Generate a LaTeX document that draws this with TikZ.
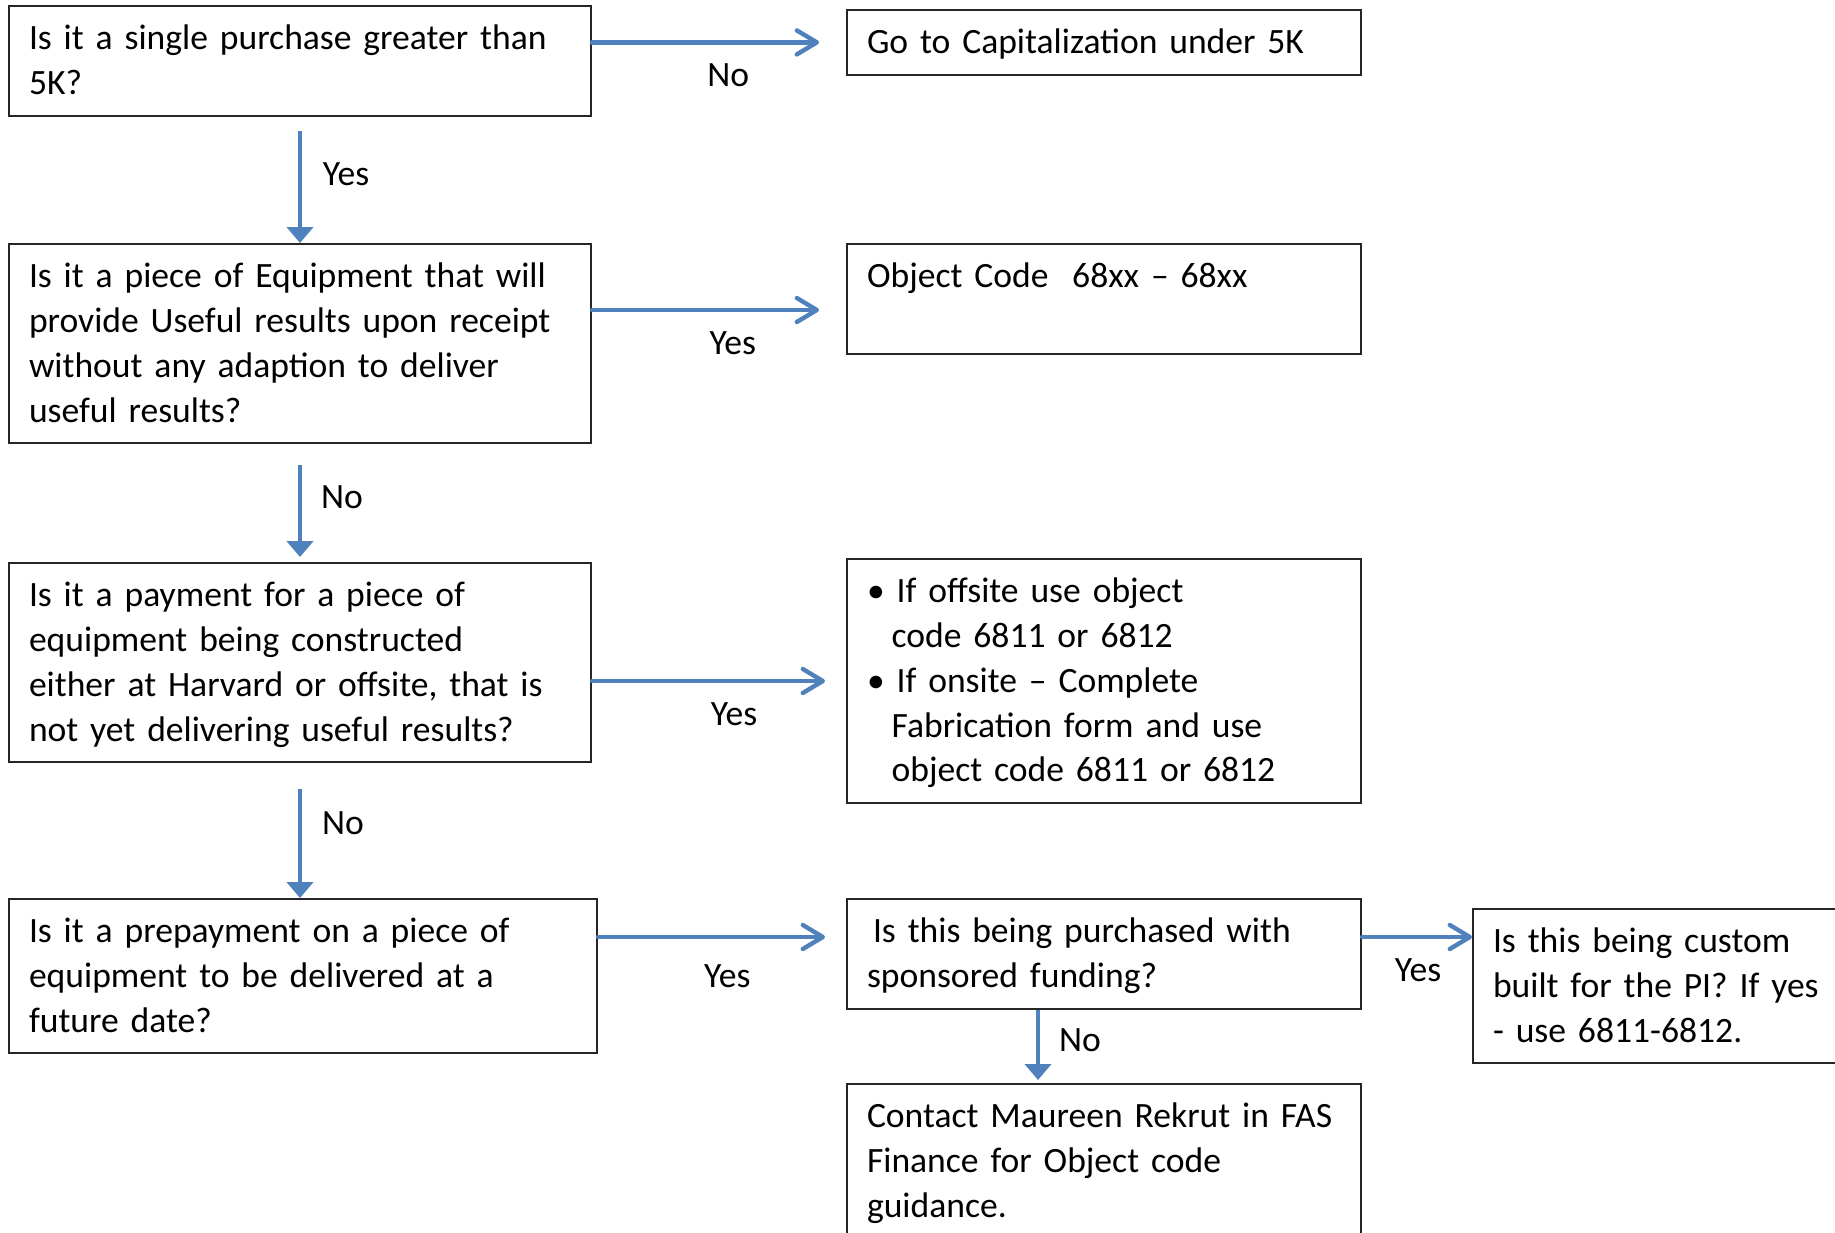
\documentclass[tikz,border=0pt]{standalone}
\usepackage{fontspec}
\setmainfont{Carlito}
\usetikzlibrary{arrows.meta}
\definecolor{flowblue}{HTML}{4F81BD}
\newcommand\bstrut{\rule[-5.6pt]{0pt}{22.4pt}}

\begin{document}
\begin{tikzpicture}[x=1pt,y=-1pt,
  font=\fontsize{17.8}{22.4}\selectfont,
  box/.style={draw=black!85, line width=1pt, anchor=north west, align=left,
    inner xsep=10pt, inner ysep=5pt,
    execute at begin node=\bstrut, execute at end node=\bstrut},
  harrow/.style={draw=flowblue, line width=2.2pt, line cap=round,
    -{Straight Barb[length=10pt,width=12pt,round]}},
  varrow/.style={draw=flowblue, line width=2.4pt, -{Triangle[length=8pt,width=13pt]}}]
\useasboundingbox (0,0) rectangle (917.5,616);

% questions on the left
\node[box, text width=271pt] (q1) at (4,2.5) {Is it a single purchase greater than\\5K?};
\node[box, text width=271pt] (q2) at (4,121.5) {Is it a piece of Equipment that will\\provide Useful results upon receipt\\without any adaption to deliver\\useful results?};
\node[box, text width=271pt] (q3) at (4,281) {Is it a payment for a piece of\\equipment being constructed\\either at Harvard or offsite, that is\\not yet delivering useful results?};
\node[box, text width=274pt] (q4) at (4,449) {Is it a prepayment on a piece of\\equipment to be delivered at a\\future date?};

% answers on the right
\node[box, text width=237pt] (cap) at (423,4.5) {Go to Capitalization under 5K};
\node[box, text width=237pt, text depth=28.2pt] (obj) at (423,121.5) {Object Code\ \ 68xx -- 68xx};
\node[box, text width=237pt] (bul) at (423,279) {\textbullet\ If offsite use object\\\hspace*{12.3pt}code 6811 or 6812\\\textbullet\ If onsite -- Complete\\\hspace*{12.3pt}Fabrication form and use\\\hspace*{12.3pt}object code 6811 or 6812};
\node[box, text width=237pt] (spon) at (423,449) {\hspace*{3pt}Is this being purchased with\\sponsored funding?};
\node[box, text width=200pt] (pi) at (736,454) {Is this being custom\\built for the PI? If yes\\- use 6811-6812.};
\node[box, text width=237pt] (cont) at (423,541.5) {Contact Maureen Rekrut in FAS\\Finance for Object code\\guidance.};

% vertical arrows
\draw[varrow] ([yshift=-7pt]q1.south) -- node[pos=0.39, xshift=23pt] {Yes} (q2.north);
\draw[varrow] ([yshift=-10.5pt]q2.south) -- node[pos=0.35, xshift=21pt] {No} ([yshift=2.5pt]q3.north);
\draw[varrow] ([yshift=-13pt]q3.south) -- node[pos=0.31, xshift=21.5pt] {No} (q3.south |- q4.north);
\draw[varrow] ([xshift=-33pt]spon.south) -- node[pos=0.44, xshift=21pt] {No} ([xshift=-33pt,yshift=1.5pt]spon.south |- cont.north);

% horizontal arrows
\draw[harrow] (q1.east |- cap.west) -- node[pos=0.6, yshift=-16.5pt] {No} ([xshift=-13.5pt]cap.west);
\draw[harrow] ([yshift=-33.5pt]q2.north east) -- node[pos=0.62, yshift=-16.5pt] {Yes} ([xshift=-13.5pt,yshift=-33.5pt]obj.north west);
\draw[harrow] (q3.east |- bul.west) -- node[pos=0.61, yshift=-16.5pt] {Yes} ([xshift=-10.5pt]bul.west);
\draw[harrow] ([yshift=-19.5pt]q4.north east) -- node[pos=0.57, yshift=-19.5pt] {Yes} ([xshift=-10.5pt,yshift=-19.5pt]spon.north west);
\draw[harrow] ([yshift=-19.5pt]spon.north east) -- node[pos=0.51, yshift=-16.5pt] {Yes} ([yshift=-14.5pt]pi.north west);
\end{tikzpicture}
\end{document}
